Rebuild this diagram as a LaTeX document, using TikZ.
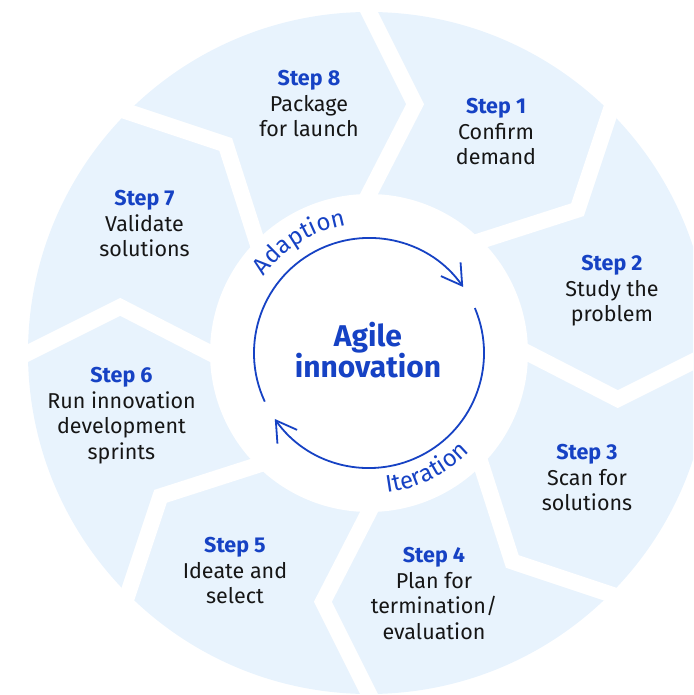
\documentclass[tikz,border=0pt]{standalone}
\usepackage{fontspec}
\setmainfont{Fira Sans}
\usepackage{tikz}
\usetikzlibrary{arrows.meta,calc,decorations.text}
\definecolor{agileblue}{RGB}{22,66,196}
\definecolor{segfill}{RGB}{232,243,253}
\definecolor{steptext}{RGB}{22,22,22}

\begin{document}
\begin{tikzpicture}[x=1pt,y=1pt,
stepnode/.style={anchor=north,align=center,inner sep=0pt,text=steptext,font=\fontsize{21.5}{25.7}\selectfont},
gapline/.style={white,line width=16pt,line join=miter},
cyclearrow/.style={agileblue,line width=1.8pt,-{Straight Barb[length=20pt,width=24pt]}}]
\useasboundingbox (-369,-342) rectangle (324,353);
\clip (-369,-342) rectangle (324,353);
\fill[segfill] (0,0) circle (341);
\foreach \a in {90,45,...,-225}
  \draw[gapline] ($(\a:341)!-0.2!(\a-10.5:253)$) -- (\a-10.5:253) -- ($(\a:159)!-0.2!(\a-10.5:253)$);
\fill[white] (0,0) circle (159);
\draw[cyclearrow] (205:115) arc[start angle=205,end angle=35,radius=115];
\draw[cyclearrow] (23:115) arc[start angle=23,end angle=-145,radius=115];
\path[decorate,decoration={text along path,text align=center,text color=agileblue,
  text={|\fontsize{24}{24}\selectfont|Adaption}}] (160:130) arc[start angle=160,end angle=84,radius=130];
\path[decorate,decoration={text along path,text align=center,text color=agileblue,
  text={|\fontsize{24}{24}\selectfont|Iteration}}] (-100:141) arc[start angle=-100,end angle=-27,radius=141];
\node[anchor=north,align=center,inner sep=0pt,text=agileblue,font=\fontsize{30}{31}\selectfont\bfseries] (title) at (-1,31) {Agile\\innovation};
\node[stepnode] (step1) at (127,255) {\textbf{\textcolor{agileblue}{Step 1}}\\Confirm\\demand};
\node[stepnode] (step2) at (243,98) {\textbf{\textcolor{agileblue}{Step 2}}\\Study the\\problem};
\node[stepnode] (step3) at (218,-91) {\textbf{\textcolor{agileblue}{Step 3}}\\Scan for\\solutions};
\node[stepnode] (step4) at (65,-194) {\textbf{\textcolor{agileblue}{Step 4}}\\Plan for\\termination/\\evaluation};
\node[stepnode] (step5) at (-134,-184) {\textbf{\textcolor{agileblue}{Step 5}}\\Ideate and\\select};
\node[stepnode] (step6) at (-247.5,-14) {\textbf{\textcolor{agileblue}{Step 6}}\\Run innovation\\development\\sprints};
\node[stepnode] (step7) at (-224.5,163) {\textbf{\textcolor{agileblue}{Step 7}}\\Validate\\solutions};
\node[stepnode] (step8) at (-60,283) {\textbf{\textcolor{agileblue}{Step 8}}\\Package\\for launch};
\end{tikzpicture}
\end{document}
